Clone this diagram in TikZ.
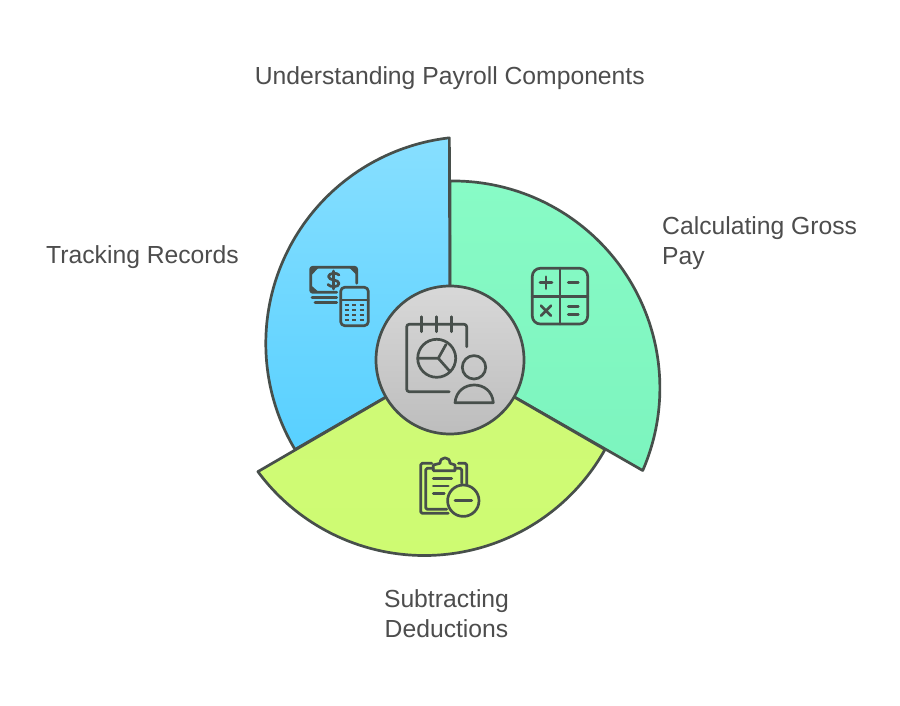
\documentclass[tikz,border=0pt]{standalone}
\usepackage{fontspec}
\setmainfont{Liberation Sans}
\definecolor{ink}{HTML}{474F4B}
\definecolor{labelc}{HTML}{4D4D4D}
\definecolor{gtop}{HTML}{88FBC6}
\definecolor{gbot}{HTML}{7CF4BE}
\definecolor{btop}{HTML}{87DFFF}
\definecolor{bbot}{HTML}{58D0FF}
\definecolor{ytop}{HTML}{D0FA78}
\definecolor{ybot}{HTML}{CEFB72}
\definecolor{ctop}{HTML}{D8D8D8}
\definecolor{cbot}{HTML}{BDBDBD}
\tikzset{
  x=1pt,y=1pt,
  wedge/.style={draw=ink,line width=2.7pt,line join=round},
  iconline/.style={draw=ink,line width=2.7pt,line cap=round,line join=round},
  lab/.style={text=labelc,font=\fontsize{24.7}{30}\selectfont,inner sep=0pt,align=left},
}
\begin{document}
\begin{tikzpicture}
\useasboundingbox (0,0) rectangle (900,705);
\fill[white] (0,0) rectangle (900,705);
\coordinate (O) at (450,345);
% sectors
\shade[wedge,top color=gtop,bottom color=gbot] (O) -- ++(0,179) arc[start angle=90.8,end angle=-23.5,radius=207pt] -- cycle;
\shade[wedge,top color=btop,bottom color=bbot] (O) -- ++(-155,-89.5) arc[start angle=210.8,end angle=96.5,radius=207pt] -- cycle;
\shade[wedge,top color=ytop,bottom color=ybot] (O) -- ++(155,-89.5) arc[start angle=330.8,end angle=216.5,radius=207pt] -- cycle;
\node[circle,minimum size=148pt,inner sep=0pt,top color=ctop,bottom color=cbot,draw=ink,line width=2.7pt] (hub) at (O) {};
% labels
\node[lab,anchor=center] (title) at (449.8,626.5) {Understanding Payroll Components};
\node[lab,anchor=west] (gross) at (662,462) {Calculating Gross\\Pay};
\node[lab,anchor=west] (track) at (46,447.5) {Tracking Records};
\node[lab,anchor=center,align=center] (deduct) at (446.5,91) {Subtracting\\Deductions};
% icons, in picture pixels (y downwards)
\begin{scope}[yshift=705pt,y=-1pt]
  % hub icon
  \draw[iconline] (466.7,346.7) -- (466.7,327) [rounded corners=2.5pt] -- (466.7,324.3) -- (406.7,324.3) -- (406.7,391.7) -- (449.3,391.7);
  \foreach \xx in {421.7,436.7,451.7} \draw[iconline] (\xx,316.7) -- (\xx,331.7);
  \draw[iconline] (436.7,358.3) circle[radius=19pt];
  \draw[iconline] (418,358.3) -- (438.3,358.3) -- (446,344.5);
  \draw[iconline] (438.3,358.3) -- (450,371.5);
  \draw[iconline] (474,367.3) circle[radius=11.7pt];
  \draw[iconline] (455,402.7) .. controls (456,391) and (465,385) .. (474.2,385) .. controls (483.5,385) and (492.5,391) .. (493.3,402.7) -- cycle;
  % cash and calculator
  \draw[iconline] (356.7,283.3) [rounded corners=2pt] -- (356.7,267.3) -- (310.7,267.3) -- (310.7,292.3) -- (336.7,292.3);
  \fill[ink] (310.7,267.3) -- (319,267.3) -- (310.7,276) -- cycle;
  \fill[ink] (356.7,267.3) -- (349,267.3) -- (356.7,275) -- cycle;
  \fill[ink] (310.7,292.3) -- (319,292.3) -- (310.7,285) -- cycle;
  \draw[iconline] (339,275) .. controls (337,272.5) and (329,272.5) .. (328.5,276.5) .. controls (328.5,281) and (339,279) .. (339,283.5) .. controls (339,287.5) and (330,287.5) .. (328,284.5);
  \draw[iconline] (333.5,271) -- (333.5,289);
  \draw[iconline] (312,297.3) -- (336.7,297.3);
  \draw[iconline] (315,302.3) -- (336.7,302.3);
  \draw[iconline,rounded corners=4pt] (340.7,287.3) rectangle (368.3,325.7);
  \draw[iconline] (340.7,300) -- (368.3,300);
  \foreach \yy in {305,310,315,320}
    \foreach \xx in {346.7,354,361.7}
      \draw[ink,line width=2.5pt] (\xx-2.2,\yy) -- (\xx+2.2,\yy);
  % arithmetic
  \draw[iconline,rounded corners=8pt] (532.3,268.3) rectangle (587.7,324);
  \draw[iconline] (560,268.3) -- (560,324);
  \draw[iconline] (532.3,296.7) -- (587.7,296.7);
  \draw[iconline] (540,282.7) -- (552,282.7);
  \draw[iconline] (546,276.7) -- (546,288.7);
  \draw[iconline] (568.3,282.7) -- (578.3,282.7);
  \draw[iconline] (541,305.7) -- (551,315.7);
  \draw[iconline] (551,305.7) -- (541,315.7);
  \draw[iconline] (568.3,306.7) -- (578.3,306.7);
  \draw[iconline] (568.3,314.3) -- (578.3,314.3);
  % clipboard
  \draw[iconline,rounded corners=1.5pt] (431.7,463.3) -- (420.7,463.3) -- (420.7,513.3) -- (448.3,513.3);
  \draw[iconline,rounded corners=1.5pt] (433.3,468.3) -- (425.7,468.3) -- (425.7,509.3) -- (446.7,509.3);
  \draw[iconline,rounded corners=1.5pt] (458.3,463.3) -- (466.7,463.3) -- (466.7,485);
  \draw[iconline,rounded corners=1.5pt] (455,468.3) -- (461.7,468.3) -- (461.7,483.3);
  \draw[iconline] (433.3,470.7) -- (433.3,465) -- (440,463.3) .. controls (440,456) and (450,456) .. (450,463.3) -- (455,465) -- (455,470.7) -- cycle;
  \draw[iconline] (433.3,478.3) -- (451.7,478.3);
  \draw[iconline] (433.3,486) -- (448.3,486);
  \draw[iconline] (433.3,493.3) -- (444.3,493.3);
  \draw[iconline] (463.3,500.7) circle[radius=15.7pt];
  \draw[iconline] (455,500.7) -- (471.7,500.7);
\end{scope}
\end{tikzpicture}
\end{document}
